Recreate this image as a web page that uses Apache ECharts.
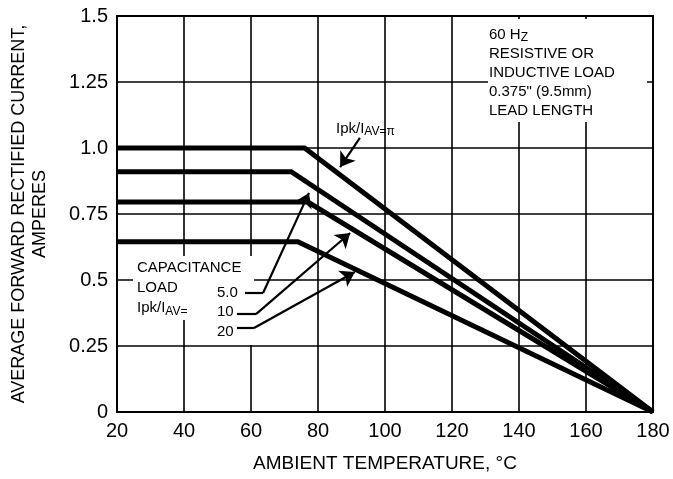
<!DOCTYPE html>
<html>
<head>
<meta charset="utf-8">
<script src="https://cdn.jsdelivr.net/npm/echarts@6/dist/echarts.min.js"></script>
<style>
html,body{margin:0;padding:0;background:#fff;}
#c{width:673px;height:479px;}
</style>
</head>
<body>
<div id="c"></div>
<script>
// ---- data ----
var xTicks = [20, 40, 60, 80, 100, 120, 140, 160, 180];
var yTickValues = [0, 0.25, 0.5, 0.75, 1.0, 1.25, 1.5];
var yTickLabels = ['0', '0.25', '0.5', '0.75', '1.0', '1.25', '1.5'];

var tempPi  = [20, 76, 180];
var curPi   = [1.0, 1.0, 0];
var temp5   = [20, 72, 180];
var cur5    = [0.91, 0.91, 0];
var temp10  = [20, 77, 180];
var cur10   = [0.795, 0.795, 0];
var temp20  = [20, 74, 180];
var cur20   = [0.645, 0.645, 0];

// leader lines (data coordinates): [tail(x,y), knee(x,y), tip(x,y)]
var leader5  = [[58.2, 0.451], [63.6, 0.451], [77.3, 0.83]];
var leader10 = [[55.8, 0.371], [61.5, 0.371], [89.6, 0.678]];
var leader20 = [[55.8, 0.318], [60.9, 0.318], [91.0, 0.530]];
var leaderPi = [[92.5, 1.038], [86.6, 0.928]];

function pairs(xs, ys) { return xs.map(function (x, i) { return [x, ys[i]]; }); }

var FONT = "'Liberation Sans', Arial, Helvetica, sans-serif";
var chart = echarts.init(document.getElementById('c'), null, {renderer: 'canvas'});

function curve(name, xs, ys) {
  return {
    name: name, type: 'line', data: pairs(xs, ys), symbol: 'none', z: 4,
    lineStyle: {color: '#000', width: 5, join: 'miter'}, silent: true
  };
}

var segs = [leader5, leader10, leader20].map(function (l) { return {coords: [l[0], l[1]]}; });
var arrows = [leader5, leader10, leader20].map(function (l) { return {coords: [l[1], l[2]]}; });
arrows.push({coords: [leaderPi[0], leaderPi[1]]});

var option = {
  animation: false,
  backgroundColor: '#fff',
  grid: {left: 117, right: 20, top: 16, bottom: 67, show: true, borderColor: '#000', borderWidth: 2, backgroundColor: 'transparent'},
  xAxis: {
    type: 'value', min: 20, max: 180, interval: 20,
    name: 'AMBIENT TEMPERATURE, °C', nameLocation: 'middle', nameGap: 42,
    nameTextStyle: {fontFamily: FONT, fontSize: 19, color: '#000'},
    axisLine: {show: true, lineStyle: {color: '#000', width: 2}},
    axisTick: {show: false},
    axisLabel: {fontFamily: FONT, fontSize: 20, color: '#000', margin: 9,
      formatter: function (v) { return xTicks.indexOf(v) >= 0 ? String(v) : ''; }},
    splitLine: {show: true, lineStyle: {color: '#000', width: 1.6}}
  },
  yAxis: {
    type: 'value', min: 0, max: 1.5, interval: 0.25,
    name: 'AVERAGE FORWARD RECTIFIED CURRENT,\nAMPERES', nameLocation: 'middle', nameGap: 66,
    nameRotate: 90,
    nameTextStyle: {fontFamily: FONT, fontSize: 18, color: '#000', lineHeight: 21, align: 'center'},
    axisLine: {show: true, lineStyle: {color: '#000', width: 2}},
    axisTick: {show: false},
    axisLabel: {fontFamily: FONT, fontSize: 20, color: '#000', margin: 9,
      formatter: function (v) {
        for (var i = 0; i < yTickValues.length; i++) { if (Math.abs(yTickValues[i] - v) < 1e-9) return yTickLabels[i]; }
        return '';
      }},
    splitLine: {show: true, lineStyle: {color: '#000', width: 1.6}}
  },
  series: [
    curve('Ipk/IAV=π', tempPi, curPi),
    curve('5.0', temp5, cur5),
    curve('10', temp10, cur10),
    curve('20', temp20, cur20),
    {
      type: 'lines', coordinateSystem: 'cartesian2d', z: 6, silent: true,
      symbol: ['none', 'none'],
      lineStyle: {color: '#000', width: 2.2, opacity: 1, curveness: 0},
      data: segs
    },
    {
      type: 'lines', coordinateSystem: 'cartesian2d', z: 6, silent: true,
      symbol: ['none', 'arrow'], symbolSize: 14,
      lineStyle: {color: '#000', width: 2.2, opacity: 1, curveness: 0},
      data: arrows
    }
  ]
};
chart.setOption(option);

chart.setOption({
  graphic: [
    {type: 'rect', z: 3, shape: {x: 488, y: 19, width: 159, height: 103}, style: {fill: '#fff'}},
    {type: 'rect', z: 3, shape: {x: 133, y: 256, width: 121, height: 64}, style: {fill: '#fff'}},
    {type: 'rect', z: 3, shape: {x: 213, y: 283, width: 41, height: 62}, style: {fill: '#fff'}},
    {type: 'text', z: 10, left: 489, top: 25, style: {
      text: '60 H{s|Z}\nRESISTIVE OR\nINDUCTIVE LOAD\n0.375" (9.5mm)\nLEAD LENGTH',
      font: '15px ' + FONT, fill: '#000', lineHeight: 19,
      rich: {s: {fontSize: 12, fontFamily: FONT, fill: '#000', verticalAlign: 'bottom', lineHeight: 19}}
    }},
    {type: 'text', z: 10, left: 137, top: 258, style: {
      text: 'CAPACITANCE\nLOAD\nIpk/I{s|AV=}',
      font: '15px ' + FONT, fill: '#000', lineHeight: 20,
      rich: {s: {fontSize: 12, fontFamily: FONT, fill: '#000', verticalAlign: 'bottom', lineHeight: 20}}
    }},
    {type: 'text', z: 10, left: 217, top: 283, style: {
      text: '5.0\n10\n20', font: '15px ' + FONT, fill: '#000', lineHeight: 19.5
    }},
    {type: 'text', z: 10, left: 336, top: 120, style: {
      text: 'Ipk/I{s|AV=π}', font: '15px ' + FONT, fill: '#000', lineHeight: 18,
      rich: {s: {fontSize: 12, fontFamily: FONT, fill: '#000', verticalAlign: 'bottom', lineHeight: 18}}
    }}
  ]
});
</script>
</body>
</html>
